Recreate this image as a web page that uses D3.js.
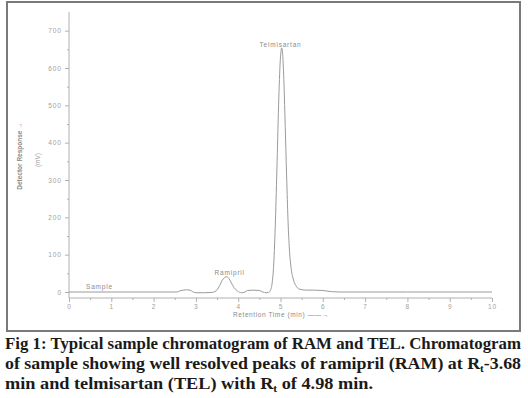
<!DOCTYPE html>
<html>
<head>
<meta charset="utf-8">
<script src="https://cdn.jsdelivr.net/npm/d3@7"></script>
<style>
  body { margin: 0; background: #fff; }
  svg { display: block; }
</style>
</head>
<body>
<div id="chart"></div>
<script>
// retention time (min) and detector response of the sample trace
const times = [0, 1, 2, 2.55, 2.62, 2.7, 2.78, 2.86, 2.92, 3.0, 3.2, 3.38, 3.45,
  3.5, 3.56, 3.62, 3.68, 3.73, 3.78, 3.84, 3.9, 3.98, 4.08, 4.16, 4.22, 4.35, 4.5, 4.58,
  4.66, 4.72, 4.76, 4.8, 4.84, 4.88, 4.92, 4.96, 5.0, 5.03, 5.06, 5.09, 5.12, 5.15,
  5.18, 5.21, 5.25, 5.3, 5.36, 5.44, 5.6, 5.8, 6.0, 6.2, 6.4, 8, 10];
const response = [0, 0, 0, 0, 3, 5, 6, 5, 1, -2, -2, -1, 1,
  6, 17, 31, 39, 41, 36, 24, 12, 3, -2, 0, 4, 5, 4, 0,
  -2, -1, 4, 22, 75, 190, 350, 520, 630, 654, 620, 530, 410, 290,
  185, 115, 65, 35, 18, 8, 5, 5, 4, 1, 0, 0, 0];

const xTicks = [0, 1, 2, 3, 4, 5, 6, 7, 8, 9, 10];
const yTicks = [0, 100, 200, 300, 400, 500, 600, 700];
const peakNames = ['Sample', 'Ramipril', 'Telmisartan'];
const peakTimes = [0.72, 3.8, 5.0];
const peakLabelValues = [8, 45, 656];

const W = 528, H = 398;
const grey = '#9a9a9a';

const svg = d3.select('#chart').append('svg')
  .attr('width', W).attr('height', H);

// frame round the chart
svg.append('rect')
  .attr('x', 7).attr('y', 2).attr('width', 513).attr('height', 329)
  .attr('fill', 'none').attr('stroke', '#7a7a7a').attr('stroke-width', 2);

const x = d3.scaleLinear().domain([0, 10]).range([69, 492]);
const y = d3.scaleLinear().domain([0, 750]).range([292, 12]);
const axisY = y(0) + 6;

// *** axes *** //
const xAxis = svg.append('g')
  .attr('transform', `translate(0,${axisY})`)
  .call(d3.axisBottom(x).tickValues(xTicks).tickSize(4).tickPadding(2).tickFormat(d3.format('d')));
svg.append('g')
  .attr('transform', `translate(0,${axisY})`)
  .call(d3.axisBottom(x).tickValues(d3.range(0.5, 10, 1)).tickSize(2).tickFormat(''));

const yAxis = svg.append('g')
  .attr('transform', `translate(${x(0)},0)`)
  .call(d3.axisLeft(y).tickValues(yTicks).tickSize(4).tickPadding(3));
svg.append('g')
  .attr('transform', `translate(${x(0)},0)`)
  .call(d3.axisLeft(y).tickValues(d3.range(50, 750, 100)).tickSize(2).tickFormat(''));

svg.selectAll('.domain').remove();
svg.append('line')
  .attr('x1', x(0)).attr('x2', x(0)).attr('y1', y(750)).attr('y2', axisY)
  .attr('stroke', '#b0b0b0');
svg.append('line')
  .attr('x1', x(0)).attr('x2', x(10)).attr('y1', axisY).attr('y2', axisY)
  .attr('stroke', '#b0b0b0');

svg.selectAll('.tick line').attr('stroke', '#b0b0b0');
svg.selectAll('.tick text')
  .attr('fill', '#a0a0a0')
  .style('font-family', 'Liberation Sans, sans-serif')
  .style('font-size', '6.5px')
  .style('letter-spacing', '1px');

// axis titles
svg.append('text')
  .attr('transform', `translate(22,156) rotate(-90)`)
  .attr('text-anchor', 'middle')
  .attr('fill', '#8a8a8a')
  .style('font-family', 'Liberation Sans, sans-serif')
  .style('font-size', '6.5px')
  .style('font-weight', 'bold')
  .text('Detector Response \u2192');
svg.append('text')
  .attr('transform', `translate(40,160) rotate(-90)`)
  .attr('text-anchor', 'middle')
  .attr('fill', '#a0a0a0')
  .style('font-family', 'Liberation Sans, sans-serif')
  .style('font-size', '6.5px')
  .text('(mV)');
svg.append('text')
  .attr('x', 281).attr('y', 317)
  .attr('text-anchor', 'middle')
  .attr('fill', '#8a8a8a')
  .style('font-family', 'Liberation Sans, sans-serif')
  .style('font-size', '6.5px')
  .style('letter-spacing', '0.6px')
  .text('Retention Time (min) \u2014\u2014\u2192');

// *** trace *** //
const trace = times.map((t, i) => [t, response[i]]);
svg.append('path')
  .datum(trace)
  .attr('fill', 'none')
  .attr('stroke', grey)
  .attr('stroke-width', 1)
  .attr('d', d3.line().x(d => x(d[0])).y(d => y(d[1])).curve(d3.curveMonotoneX));

// peak labels
svg.selectAll('.peak')
  .data(peakNames)
  .join('text')
  .attr('class', 'peak')
  .attr('x', (d, i) => i === 0 ? x(peakTimes[i]) : x(peakTimes[i]))
  .attr('y', (d, i) => y(peakLabelValues[i]))
  .attr('text-anchor', 'middle')
  .attr('fill', '#8a8a8a')
  .style('font-family', 'Liberation Sans, sans-serif')
  .style('font-size', '6.5px')
  .style('letter-spacing', '0.8px')
  .text(d => d);

// *** caption *** //
const cap = svg.append('g')
  .attr('fill', '#1a1a1a')
  .style('font-family', 'Liberation Serif, serif')
  .style('font-weight', 'bold')
  .style('font-size', '16px');

cap.append('text')
  .attr('x', 5).attr('y', 349)
  .attr('textLength', 516).attr('lengthAdjust', 'spacingAndGlyphs')
  .text('Fig 1: Typical sample chromatogram of RAM and TEL. Chromatogram');

const l2 = cap.append('text')
  .attr('x', 5).attr('y', 369)
  .attr('textLength', 516).attr('lengthAdjust', 'spacingAndGlyphs');
l2.append('tspan').text('of sample showing well resolved peaks of ramipril (RAM) at R');
l2.append('tspan').attr('dy', 3).style('font-size', '10px').text('t');
l2.append('tspan').attr('dy', -3).text('-3.68');

const l3 = cap.append('text')
  .attr('x', 5).attr('y', 389)
  .attr('textLength', 368).attr('lengthAdjust', 'spacingAndGlyphs');
l3.append('tspan').text('min and telmisartan (TEL) with R');
l3.append('tspan').attr('dy', 3).style('font-size', '10px').text('t');
l3.append('tspan').attr('dy', -3).text(' of 4.98 min.');
</script>
</body>
</html>
